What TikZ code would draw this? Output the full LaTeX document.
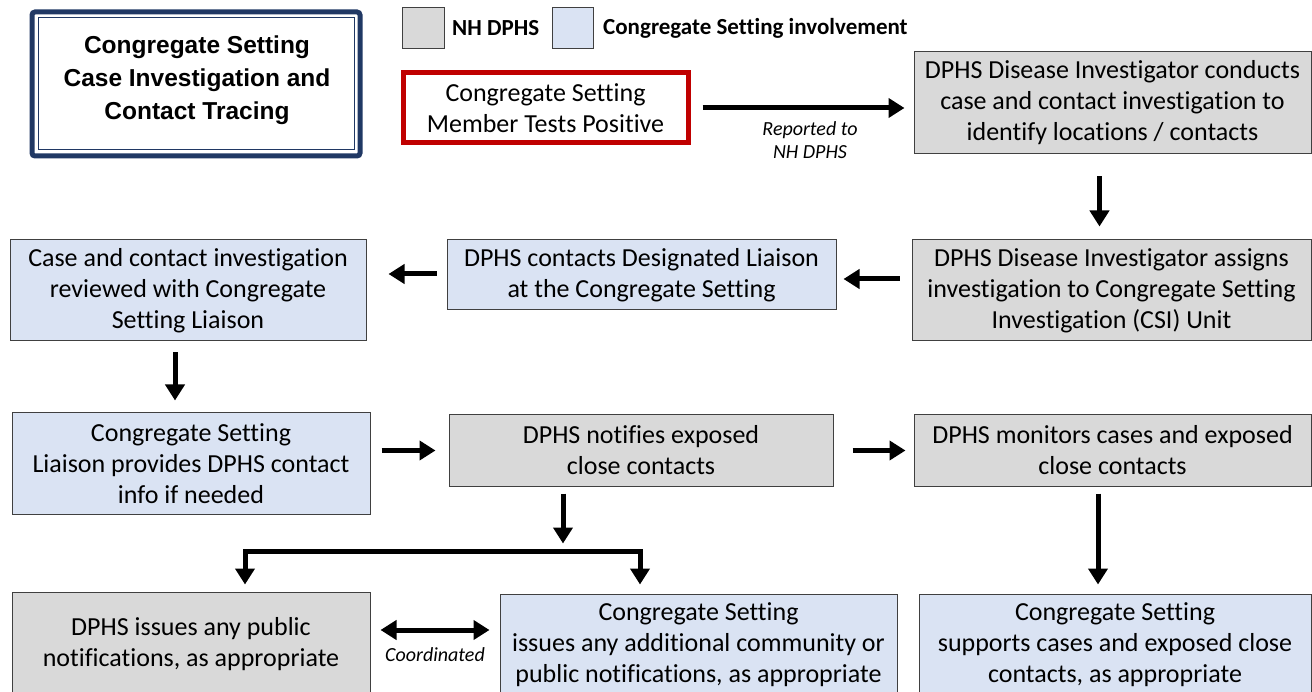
\documentclass[tikz,border=0pt]{standalone}
\usepackage{fontspec}
\setmainfont{Carlito}[Ligatures=NoCommon]
\newfontfamily\titlefont{Liberation Sans}
\usetikzlibrary{arrows.meta}
\definecolor{gfill}{HTML}{D9D9D9}
\definecolor{bfill}{HTML}{DAE3F3}
\definecolor{bline}{HTML}{404040}
\definecolor{navy}{HTML}{203864}
\definecolor{redb}{HTML}{C00000}
\tikzset{
  box/.style={draw=bline, line width=1pt, inner sep=0pt, align=center,
    font=\fontsize{26}{31}\selectfont},
  gbox/.style={box, fill=gfill},
  bbox/.style={box, fill=bfill},
  arr/.style={line width=5pt, -{Triangle[length=16pt,width=19pt]}},
  darr/.style={line width=5pt, {Triangle[length=16pt,width=19pt]}-{Triangle[length=16pt,width=19pt]}},
  lbl/.style={font=\fontsize{20}{23}\selectfont\itshape, align=center, inner sep=0pt},
  leg/.style={font=\fontsize{23}{26}\selectfont\bfseries, anchor=west, inner sep=0pt},
}
\begin{document}
\begin{tikzpicture}[x=1pt,y=-1pt]
\useasboundingbox (0,0) rectangle (1312,692);
\fill[white] (0,0) rectangle (1312,692);
% title
\draw[navy, line width=5pt, rounded corners=3pt] (32,12) rectangle (360,156);
\draw[navy, line width=1pt] (38,18) rectangle (354,150);
\node[font=\titlefont\bfseries\fontsize{24.5}{33}\selectfont, align=center, inner sep=0pt] (title) at (197,80)
  {Congregate Setting\\Case Investigation and\\Contact Tracing};
% legend
\node[gbox, minimum width=42, minimum height=41] (lg) at (423,28.5) {};
\node[leg] (lgt) at (452,28) {NH DPHS};
\node[bbox, minimum width=41, minimum height=41] (lb) at (572.5,28.5) {};
\node[leg] (lbt) at (603,28) {Congregate Setting involvement};
% boxes
\node[box, draw=redb, line width=5pt, fill=white, minimum width=285, minimum height=70] (red) at (545.5,108)
  {Congregate Setting\\Member Tests Positive};
\node[gbox, minimum width=397, minimum height=102] (A) at (1112.5,103)
  {DPHS Disease Investigator conducts\\case and contact investigation to\\identify locations / contacts};
\node[gbox, minimum width=399, minimum height=101] (B) at (1111.5,290.5)
  {DPHS Disease Investigator assigns\\investigation to Congregate Setting\\Investigation (CSI) Unit};
\node[bbox, minimum width=389, minimum height=70] (C) at (641.5,275)
  {DPHS contacts Designated Liaison\\at the Congregate Setting};
\node[bbox, minimum width=356, minimum height=101] (D) at (188,290.5)
  {Case and contact investigation\\reviewed with Congregate\\Setting Liaison};
\node[bbox, minimum width=358, minimum height=101] (E) at (191,463.5)
  {Congregate Setting\\Liaison provides DPHS contact\\info if needed};
\node[gbox, minimum width=384, minimum height=71] (F) at (641,450.5)
  {DPHS notifies exposed\\close contacts};
\node[gbox, minimum width=397, minimum height=71] (G) at (1112.5,450.5)
  {DPHS monitors cases and exposed\\close contacts};
\node[gbox, minimum width=358, minimum height=104] (H) at (191,644)
  {DPHS issues any public\\notifications, as appropriate};
\node[bbox, minimum width=397, minimum height=102] (I) at (698.5,645)
  {Congregate Setting\\issues any additional community or\\public notifications, as appropriate};
\node[bbox, minimum width=392, minimum height=102] (J) at (1115,645)
  {Congregate Setting\\supports cases and exposed close\\contacts, as appropriate};
% connectors
\draw[arr] ([shift={(12,0)}]red.east) -- ([shift={(-9,0)}]red.east -| A.west);
\node[lbl] (rep) at (810,140) {Reported to\\NH DPHS};
\draw[arr] ([shift={(-13,22)}]A.south) -- ([shift={(-13,-13)}]A.south |- B.north);
\draw[arr] ([shift={(-12,4)}]B.west |- C.east) -- ([shift={(7,4)}]C.east);
\draw[arr] ([shift={(-10,-1)}]C.west) -- ([shift={(22,-1)}]C.west -| D.east);
\draw[arr] ([shift={(-13,11)}]D.south) -- ([shift={(-13,-12)}]D.south |- E.north);
\draw[arr] ([shift={(11,0)}]E.east |- F.west) -- ([shift={(-13,0)}]F.west);
\draw[arr] ([shift={(19,0)}]F.east) -- ([shift={(-8,0)}]G.west);
\draw[arr] ([shift={(-78,7)}]F.south) -- ([shift={(-78,57)}]F.south);
\draw[darr] ([shift={(54,-7)}]H.north) -- ++(0,-33) -| ([shift={(-58.5,-9)}]I.north);
\draw[darr] ([shift={(10,-14)}]H.east) -- ([shift={(-10,-14)}]H.east -| I.west);
\node[lbl] (coord) at (435,655) {Coordinated};
\draw[arr] ([shift={(-14.5,7)}]G.south) -- ([shift={(-14.5,-9)}]G.south |- J.north);
\end{tikzpicture}
\end{document}
